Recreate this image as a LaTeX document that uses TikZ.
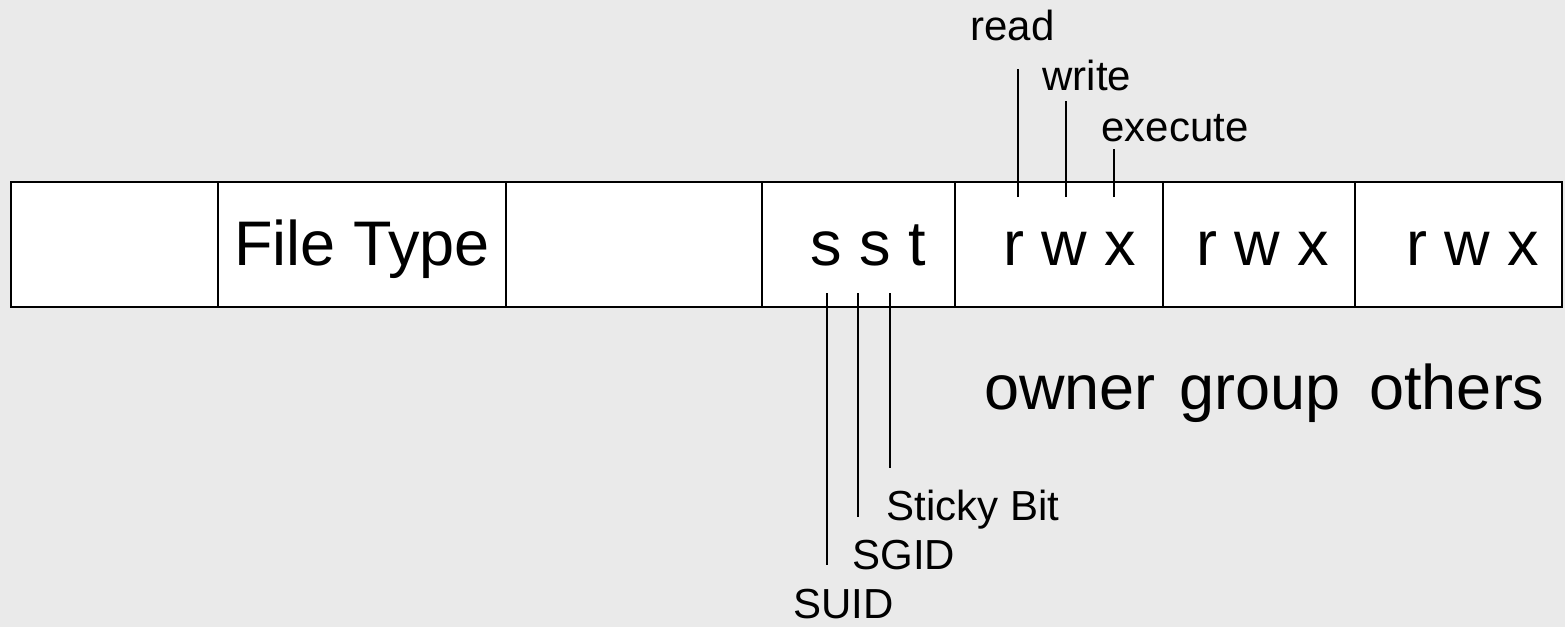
\documentclass[tikz,border=0pt]{standalone}
\usepackage{fontspec}
\setmainfont{Liberation Sans}
\usetikzlibrary{fit}
\definecolor{bg}{RGB}{234,234,234}
\begin{document}
\begin{tikzpicture}[x=0.5pt,y=-0.5pt,
  cell/.style={draw=black,fill=white,line width=1pt,inner sep=0pt},
  big/.style={inner sep=0pt,anchor=base west,font=\fontsize{31.5pt}{36pt}\selectfont},
  small/.style={inner sep=0pt,anchor=base west,font=\fontsize{21pt}{25pt}\selectfont},
  tick/.style={line width=1pt,draw=black}]
\fill[bg] (0,0) rectangle (1565,627);
\useasboundingbox (0,0) rectangle (1565,627);
% cells
\node[cell,fit={(11,182)(218,306.7)}] (c1) {};
\node[cell,fit={(218,182)(506,306.7)}] (c2) {};
\node[cell,fit={(506,182)(762,306.7)}] (c3) {};
\node[cell,fit={(762,182)(954.6,306.7)}] (c4) {};
\node[cell,fit={(954.6,182)(1162.8,306.7)}] (c5) {};
\node[cell,fit={(1162.8,182)(1355.4,306.7)}] (c6) {};
\node[cell,fit={(1355.4,182)(1562,306.7)}] (c7) {};
% cell texts
\node[big] (ft) at (234,265) {File Type};
\node[big] (sst) at (810,265) {s s t};
\node[big] (rwx1) at (1003,265) {r w x};
\node[big] (rwx2) at (1196,265) {r w x};
\node[big] (rwx3) at (1406,265) {r w x};
% labels below
\node[big] (owner) at (984,409) {owner};
\node[big] (group) at (1179,409) {group};
\node[big] (others) at (1369,409) {others};
% top labels
\node[small] (read) at (970,40) {read};
\node[small] (write) at (1042,90.7) {write};
\node[small] (execute) at (1101,141.7) {execute};
% bottom labels
\node[small] (sticky) at (886,520) {Sticky Bit};
\node[small] (sgid) at (852,569) {SGID};
\node[small] (suid) at (793,618) {SUID};
% tick coordinates
\coordinate (rA) at (1018,197); \coordinate (rB) at (1018,69);
\coordinate (wA) at (1066,197); \coordinate (wB) at (1066,101);
\coordinate (xA) at (1114,197); \coordinate (xB) at (1114,149);
\coordinate (uA) at (826.7,293); \coordinate (uB) at (826.7,565);
\coordinate (gA) at (858.3,293); \coordinate (gB) at (858.3,516.7);
\coordinate (tA) at (890,293); \coordinate (tB) at (890,468);
\draw[tick] (rA) -- (rB);
\draw[tick] (wA) -- (wB);
\draw[tick] (xA) -- (xB);
\draw[tick] (uA) -- (uB);
\draw[tick] (gA) -- (gB);
\draw[tick] (tA) -- (tB);
\end{tikzpicture}
\end{document}
